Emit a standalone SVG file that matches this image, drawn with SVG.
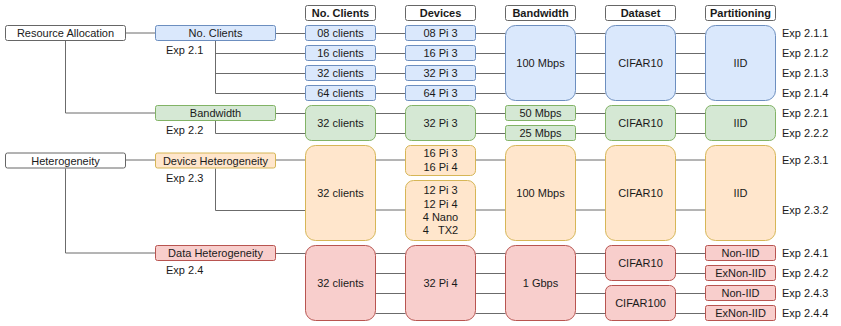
<svg xmlns="http://www.w3.org/2000/svg" width="841" height="326" viewBox="0 0 841 326">
<style>
text{font-family:"Liberation Sans",Arial,sans-serif;font-size:11px;fill:#1a1a1a;dominant-baseline:central}
.c{text-anchor:middle}
.h{font-weight:bold}
.w{fill:#fff;stroke:#666}
.b{fill:#dae8fc;stroke:#6c8ebf}
.g{fill:#d5e8d4;stroke:#82b366}
.o{fill:#ffe6cc;stroke:#d6b656}
.r{fill:#f8cecc;stroke:#b85450}
.ln{stroke:#6b6b6b;stroke-width:1;fill:none}
</style>
<g id="connectors" class="ln">
<path d="M125.5 33H155.5"/>
<path d="M65.5 40.5V113H155.5"/>
<path d="M125.5 160H155.5"/>
<path d="M65.5 168.5V253H155.5"/>
<path d="M275.5 33.5H305.5M215.5 40.5V93.5H305.5M215.5 53.5H305.5M215.5 73.5H305.5"/>
<path d="M275.5 113.5H305.5M215.5 120.5V133.5H305.5"/>
<path d="M275.5 160H305.5M215.5 168.5V210.5H305.5"/>
<path d="M275.5 253.5H305.5"/>
<path d="M375.5 33.5H405.5M375.5 53.5H405.5M375.5 73.5H405.5M375.5 93.5H405.5"/>
<path d="M475.5 33.5H505.5M475.5 53.5H505.5M475.5 73.5H505.5M475.5 93.5H505.5"/>
<path d="M575.5 33.5H605.5M575.5 53.5H605.5M575.5 73.5H605.5M575.5 93.5H605.5"/>
<path d="M675.5 33.5H705.5M675.5 53.5H705.5M675.5 73.5H705.5M675.5 93.5H705.5"/>
<path d="M375.5 113.5H405.5M375.5 133.5H405.5M475.5 113.5H505.5M475.5 133.5H505.5M575.5 113.5H605.5M575.5 133.5H605.5M675.5 113.5H705.5M675.5 133.5H705.5"/>
<path d="M375.5 160H405.5M375.5 210H405.5M475.5 160H505.5M475.5 210H505.5M575.5 160H605.5M575.5 210H605.5M675.5 160H705.5M675.5 210H705.5"/>
<path d="M375.5 253.5H405.5M375.5 273.5H405.5M375.5 293.5H405.5M375.5 313.5H405.5"/>
<path d="M475.5 253.5H505.5M475.5 273.5H505.5M475.5 293.5H505.5M475.5 313.5H505.5"/>
<path d="M575.5 253.5H605.5M575.5 273.5H605.5M575.5 293.5H605.5M575.5 313.5H605.5"/>
<path d="M675.5 253.5H705.5M675.5 273.5H705.5M675.5 293.5H705.5M675.5 313.5H705.5"/>
</g>
<g id="hdr-clients"><rect class="w" x="305.5" y="5.5" width="70" height="15" rx="2"/><text class="c h" x="340.5" y="13">No. Clients</text></g>
<g id="hdr-devices"><rect class="w" x="405.5" y="5.5" width="70" height="15" rx="2"/><text class="c h" x="440.5" y="13">Devices</text></g>
<g id="hdr-bandwidth"><rect class="w" x="505.5" y="5.5" width="70" height="15" rx="2"/><text class="c h" x="540.5" y="13">Bandwidth</text></g>
<g id="hdr-dataset"><rect class="w" x="605.5" y="5.5" width="70" height="15" rx="2"/><text class="c h" x="640.5" y="13">Dataset</text></g>
<g id="hdr-partitioning"><rect class="w" x="705.5" y="5.5" width="70" height="15" rx="2"/><text class="c h" x="740.5" y="13">Partitioning</text></g>

<g id="resource-allocation"><rect class="w" x="5.5" y="25.5" width="120" height="15" rx="2"/><text class="c" x="65.5" y="33">Resource Allocation</text></g>
<g id="heterogeneity"><rect class="w" x="5.5" y="153" width="120" height="15" rx="2"/><text class="c" x="65.5" y="160.5">Heterogeneity</text></g>

<g id="no-clients"><rect class="b" x="155.5" y="25.5" width="120" height="15" rx="2"/><text class="c" x="215.5" y="33">No. Clients</text><text x="166" y="50">Exp 2.1</text></g>
<g id="bandwidth"><rect class="g" x="155.5" y="105.5" width="120" height="15" rx="2"/><text class="c" x="215.5" y="113">Bandwidth</text><text x="166" y="130">Exp 2.2</text></g>
<g id="device-het"><rect class="o" x="155.5" y="153" width="120" height="15" rx="2"/><text class="c" x="215.5" y="160.5">Device Heterogeneity</text><text x="166" y="178">Exp 2.3</text></g>
<g id="data-het"><rect class="r" x="155.5" y="245.5" width="120" height="15" rx="2"/><text class="c" x="215.5" y="253">Data Heterogeneity</text><text x="166" y="270">Exp 2.4</text></g>

<g id="c08"><rect class="b" x="305.5" y="25.5" width="70" height="15" rx="2"/><text class="c" x="340.5" y="33">08 clients</text></g>
<g id="c16"><rect class="b" x="305.5" y="45.5" width="70" height="15" rx="2"/><text class="c" x="340.5" y="53">16 clients</text></g>
<g id="c32"><rect class="b" x="305.5" y="65.5" width="70" height="15" rx="2"/><text class="c" x="340.5" y="73">32 clients</text></g>
<g id="c64"><rect class="b" x="305.5" y="85.5" width="70" height="15" rx="2"/><text class="c" x="340.5" y="93">64 clients</text></g>
<g id="d08"><rect class="b" x="405.5" y="25.5" width="70" height="15" rx="2"/><text class="c" x="440.5" y="33">08 Pi 3</text></g>
<g id="d16"><rect class="b" x="405.5" y="45.5" width="70" height="15" rx="2"/><text class="c" x="440.5" y="53">16 Pi 3</text></g>
<g id="d32"><rect class="b" x="405.5" y="65.5" width="70" height="15" rx="2"/><text class="c" x="440.5" y="73">32 Pi 3</text></g>
<g id="d64"><rect class="b" x="405.5" y="85.5" width="70" height="15" rx="2"/><text class="c" x="440.5" y="93">64 Pi 3</text></g>
<g id="bw1"><rect class="b" x="505.5" y="25.5" width="70" height="75" rx="10"/><text class="c" x="540.5" y="63">100 Mbps</text></g>
<g id="ds1"><rect class="b" x="605.5" y="25.5" width="70" height="75" rx="10"/><text class="c" x="640.5" y="63">CIFAR10</text></g>
<g id="pt1"><rect class="b" x="705.5" y="25.5" width="70" height="75" rx="10"/><text class="c" x="740.5" y="63">IID</text></g>

<g id="c2"><rect class="g" x="305.5" y="105.5" width="70" height="35" rx="6"/><text class="c" x="340.5" y="123">32 clients</text></g>
<g id="d2"><rect class="g" x="405.5" y="105.5" width="70" height="35" rx="6"/><text class="c" x="440.5" y="123">32 Pi 3</text></g>
<g id="bw50"><rect class="g" x="505.5" y="105.5" width="70" height="15" rx="2"/><text class="c" x="540.5" y="113">50 Mbps</text></g>
<g id="bw25"><rect class="g" x="505.5" y="125.5" width="70" height="15" rx="2"/><text class="c" x="540.5" y="133">25 Mbps</text></g>
<g id="ds2"><rect class="g" x="605.5" y="105.5" width="70" height="35" rx="6"/><text class="c" x="640.5" y="123">CIFAR10</text></g>
<g id="pt2"><rect class="g" x="705.5" y="105.5" width="70" height="35" rx="6"/><text class="c" x="740.5" y="123">IID</text></g>

<g id="c3"><rect class="o" x="305.5" y="145.5" width="70" height="95" rx="10"/><text class="c" x="340.5" y="193">32 clients</text></g>
<g id="d3a"><rect class="o" x="405.5" y="145.5" width="70" height="30" rx="5"/><text class="c" x="440.5" y="153">16 Pi 3</text><text class="c" x="440.5" y="167">16 Pi 4</text></g>
<g id="d3b"><rect class="o" x="405.5" y="180.5" width="70" height="60" rx="8"/><text class="c" x="440.5" y="190">12 Pi 3</text><text class="c" x="440.5" y="203.5">12 Pi 4</text><text class="c" x="440.5" y="217">4 Nano</text><text class="c" x="440.5" y="230" xml:space="preserve">4   TX2</text></g>
<g id="bw3"><rect class="o" x="505.5" y="145.5" width="70" height="95" rx="10"/><text class="c" x="540.5" y="193">100 Mbps</text></g>
<g id="ds3"><rect class="o" x="605.5" y="145.5" width="70" height="95" rx="10"/><text class="c" x="640.5" y="193">CIFAR10</text></g>
<g id="pt3"><rect class="o" x="705.5" y="145.5" width="70" height="95" rx="10"/><text class="c" x="740.5" y="193">IID</text></g>

<g id="c4"><rect class="r" x="305.5" y="245.5" width="70" height="75" rx="10"/><text class="c" x="340.5" y="283">32 clients</text></g>
<g id="d4"><rect class="r" x="405.5" y="245.5" width="70" height="75" rx="10"/><text class="c" x="440.5" y="283">32 Pi 4</text></g>
<g id="bw4"><rect class="r" x="505.5" y="245.5" width="70" height="75" rx="10"/><text class="c" x="540.5" y="283">1 Gbps</text></g>
<g id="ds4a"><rect class="r" x="605.5" y="245.5" width="70" height="35" rx="6"/><text class="c" x="640.5" y="263">CIFAR10</text></g>
<g id="ds4b"><rect class="r" x="605.5" y="285.5" width="70" height="35" rx="6"/><text class="c" x="640.5" y="303">CIFAR100</text></g>
<g id="pt4a"><rect class="r" x="705.5" y="245.5" width="70" height="15" rx="2"/><text class="c" x="740.5" y="253">Non-IID</text></g>
<g id="pt4b"><rect class="r" x="705.5" y="265.5" width="70" height="15" rx="2"/><text class="c" x="740.5" y="273">ExNon-IID</text></g>
<g id="pt4c"><rect class="r" x="705.5" y="285.5" width="70" height="15" rx="2"/><text class="c" x="740.5" y="293">Non-IID</text></g>
<g id="pt4d"><rect class="r" x="705.5" y="305.5" width="70" height="15" rx="2"/><text class="c" x="740.5" y="313">ExNon-IID</text></g>

<g id="exp-labels">
<text x="782" y="33">Exp 2.1.1</text>
<text x="782" y="53">Exp 2.1.2</text>
<text x="782" y="73">Exp 2.1.3</text>
<text x="782" y="93">Exp 2.1.4</text>
<text x="782" y="113">Exp 2.2.1</text>
<text x="782" y="133">Exp 2.2.2</text>
<text x="782" y="160">Exp 2.3.1</text>
<text x="782" y="210">Exp 2.3.2</text>
<text x="782" y="253">Exp 2.4.1</text>
<text x="782" y="273">Exp 2.4.2</text>
<text x="782" y="293">Exp 2.4.3</text>
<text x="782" y="313">Exp 2.4.4</text>
</g>
</svg>
